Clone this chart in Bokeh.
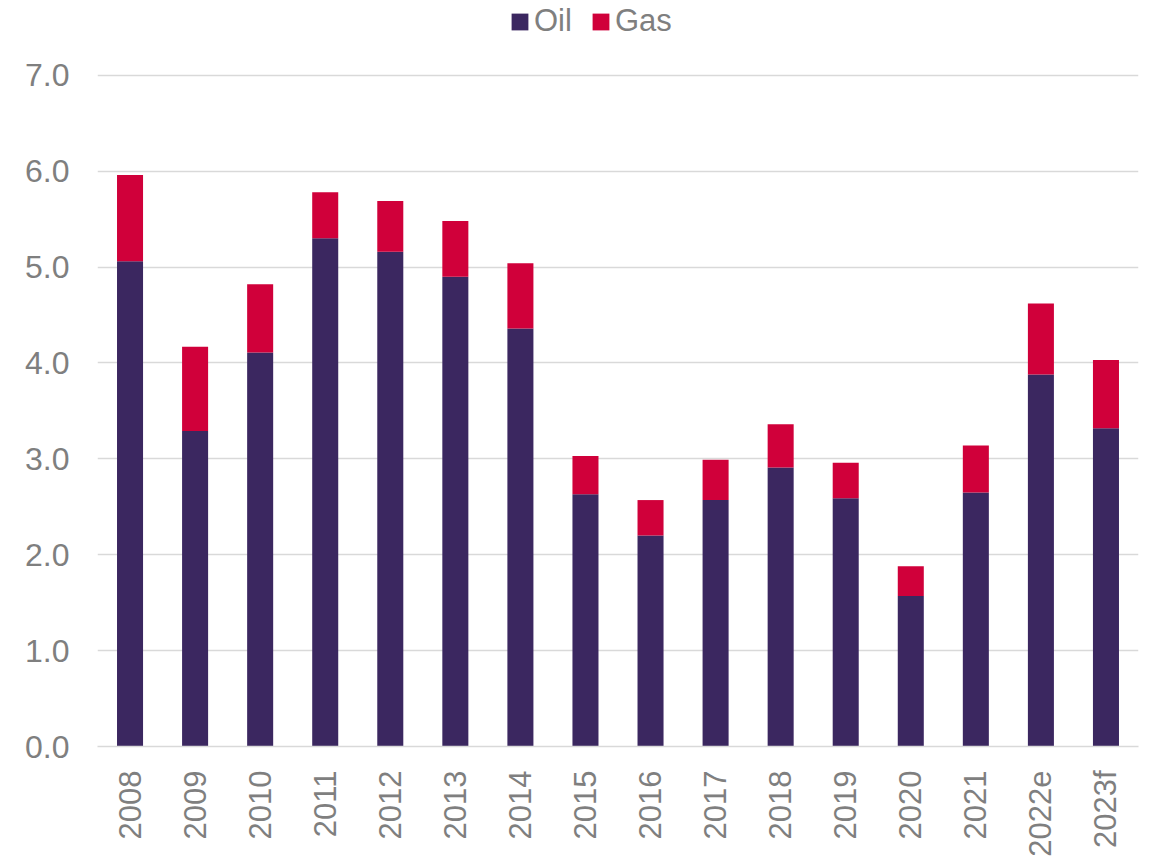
from bokeh.plotting import figure
from bokeh.models import FactorRange, Range1d, Legend, LegendItem, SingleIntervalTicker, NumeralTickFormatter, ColumnDataSource
from bokeh.embed import file_html
from bokeh.resources import INLINE
import math

years = ["2008", "2009", "2010", "2011", "2012", "2013", "2014", "2015",
         "2016", "2017", "2018", "2019", "2020", "2021", "2022e", "2023f"]
oil = [5.06, 3.29, 4.11, 5.30, 5.16, 4.90, 4.36, 2.63, 2.20, 2.57, 2.91, 2.59, 1.57, 2.65, 3.88, 3.32]
total = [5.96, 4.17, 4.82, 5.78, 5.69, 5.48, 5.04, 3.03, 2.57, 2.99, 3.36, 2.96, 1.88, 3.14, 4.62, 4.03]
gas = [round(t - o, 2) for t, o in zip(total, oil)]

OIL_COLOR = "#3B2760"
GAS_COLOR = "#D0003A"
TEXT_COLOR = "#7F7F7F"
GRID_COLOR = "#D9D9D9"
FONT = "Liberation Sans"

src = ColumnDataSource(dict(years=years, oil=oil, gas=gas))

p = figure(width=1153, height=859, x_range=FactorRange(*years, range_padding=0),
           y_range=Range1d(0, 7.78), output_backend="svg", toolbar_location=None,
           min_border_left=97, min_border_right=15, min_border_top=0, min_border_bottom=111)

r = p.vbar_stack(["oil", "gas"], x="years", width=0.4, source=src,
                 color=[OIL_COLOR, GAS_COLOR], line_color=None)

p.outline_line_color = None
p.background_fill_color = "white"
p.border_fill_color = "white"

p.xgrid.grid_line_color = None
p.ygrid.grid_line_color = GRID_COLOR
p.ygrid.grid_line_width = 1.5

p.yaxis.ticker = SingleIntervalTicker(interval=1)
p.yaxis.formatter = NumeralTickFormatter(format="0.0")
p.yaxis.axis_line_color = None
p.yaxis.major_tick_line_color = None
p.yaxis.minor_tick_line_color = None
p.yaxis.major_label_standoff = 22
p.yaxis.major_label_text_font = FONT
p.yaxis.major_label_text_font_size = "32px"
p.yaxis.major_label_text_color = TEXT_COLOR

p.xaxis.axis_line_color = GRID_COLOR
p.xaxis.axis_line_width = 1.5
p.xaxis.major_tick_line_color = None
p.xaxis.minor_tick_line_color = None
p.xaxis.major_label_orientation = math.pi / 2
p.xaxis.major_label_standoff = 18
p.xaxis.major_label_text_font = FONT
p.xaxis.major_label_text_font_size = "31px"
p.xaxis.major_label_text_color = TEXT_COLOR

legend = Legend(items=[LegendItem(label="Oil", renderers=[r[0]]),
                       LegendItem(label="Gas", renderers=[r[1]])],
                orientation="horizontal", location=(412, 707),
                label_text_font=FONT, label_text_font_size="31px",
                label_text_color=TEXT_COLOR, glyph_width=21, glyph_height=21,
                label_standoff=4, spacing=18, padding=0, margin=0,
                border_line_color=None, background_fill_alpha=0)
p.add_layout(legend)

open("out.html", "w").write(file_html(p, INLINE))
